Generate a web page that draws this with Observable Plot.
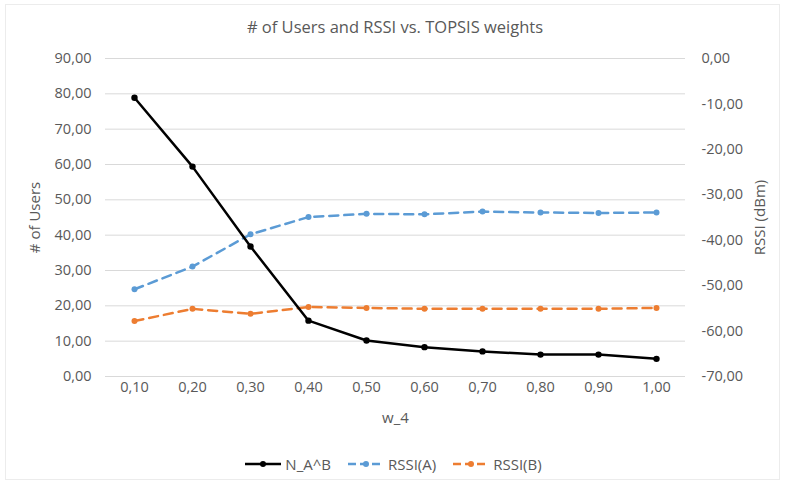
<!DOCTYPE html>
<html>
<head>
<meta charset="utf-8">
<script src="https://cdn.jsdelivr.net/npm/d3@7"></script>
<script src="https://cdn.jsdelivr.net/npm/@observablehq/plot@0.6"></script>
<style>
  html, body { margin: 0; padding: 0; background: #fff; }
  #wrap { position: relative; width: 786px; height: 483px; overflow: hidden; font-family: "Open Sans", sans-serif; color: #595959; }
  #frame { position: absolute; left: 5px; top: 4px; width: 775px; height: 476px; border: 1px solid #ececec; box-sizing: border-box; }
  #title { position: absolute; left: 0; top: 15px; width: 790px; text-align: center; font-size: 16.5px; }
  #chart { position: absolute; left: 0; top: 48px; }
  #legend { position: absolute; left: 0; top: 454px; width: 786px; display: flex; justify-content: center; gap: 16px; font-size: 15px; align-items: center; }
  .item { display: flex; align-items: center; gap: 3px; }
</style>
</head>
<body>
<div id="wrap">
  <div id="frame"></div>
  <div id="title"># of Users and RSSI vs. TOPSIS weights</div>
  <div id="chart"></div>
  <div id="legend"></div>
</div>
<script>
// TOPSIS weight w_4 categories
const categories = ["0,10", "0,20", "0,30", "0,40", "0,50", "0,60", "0,70", "0,80", "0,90", "1,00"];
// Number of users N_A^B (left axis)
const users = [78.9, 59.4, 36.8, 15.8, 10.2, 8.3, 7.1, 6.2, 6.2, 5.0];
// RSSI in dBm (right axis)
const rssiA = [-50.8, -45.8, -38.7, -34.9, -34.2, -34.3, -33.7, -33.9, -34.0, -33.9];
const rssiB = [-57.8, -55.1, -56.2, -54.7, -54.9, -55.1, -55.1, -55.1, -55.1, -54.9];
// Axis ticks
const leftTicks = [0, 10, 20, 30, 40, 50, 60, 70, 80, 90];
const rightTicks = [-70, -60, -50, -40, -30, -20, -10, 0];

const colors = { users: "#000000", a: "#5b9bd5", b: "#ed7d31" };

// Right axis (-70..0) shares the left axis (0..90) frame
const rMin = -70, rMax = 0, lMin = 0, lMax = 90;
const toLeft = r => lMin + (r - rMin) * (lMax - lMin) / (rMax - rMin);
const fmt = v => v.toFixed(2).replace(".", ",");

const rowsUsers = categories.map((c, i) => ({ w: c, v: users[i] }));
const rowsA = categories.map((c, i) => ({ w: c, v: toLeft(rssiA[i]) }));
const rowsB = categories.map((c, i) => ({ w: c, v: toLeft(rssiB[i]) }));

const dash = "9,6";

const chart = Plot.plot({
  width: 786,
  height: 400,
  marginTop: 10,
  marginBottom: 72,
  marginLeft: 105,
  marginRight: 101,
  style: { fontFamily: "Open Sans, sans-serif", fontSize: "14.5px", color: "#595959", background: "transparent" },
  x: { type: "point", domain: categories, padding: 0.5 },
  y: { domain: [lMin, lMax] },
  marks: [
    Plot.gridY(leftTicks, { stroke: "#d9d9d9", strokeOpacity: 1, strokeWidth: 1 }),
    Plot.axisY(leftTicks, { anchor: "left", tickSize: 0, tickPadding: 14, tickFormat: fmt, label: null }),
    Plot.axisY(rightTicks.map(toLeft), {
      anchor: "right", tickSize: 0, tickPadding: 16, label: null,
      tickFormat: d => fmt(rMin + (d - lMin) * (rMax - rMin) / (lMax - lMin))
    }),
    Plot.axisX({ anchor: "bottom", tickSize: 0, tickPadding: 5, label: null }),
    Plot.text(["w_4"], { frameAnchor: "bottom", dy: 46, fontSize: 15, fill: "#595959" }),
    Plot.text(["# of Users"], { frameAnchor: "left", textAnchor: "middle", dx: -70, rotate: -90, fontSize: 15, fill: "#595959" }),
    Plot.text(["RSSI (dBm)"], { frameAnchor: "right", textAnchor: "middle", dx: 75, rotate: -90, fontSize: 15, fill: "#595959" }),
    Plot.line(rowsA, { x: "w", y: "v", stroke: colors.a, strokeWidth: 2.5, strokeDasharray: dash }),
    Plot.dot(rowsA, { x: "w", y: "v", r: 3, fill: colors.a }),
    Plot.line(rowsB, { x: "w", y: "v", stroke: colors.b, strokeWidth: 2.5, strokeDasharray: dash }),
    Plot.dot(rowsB, { x: "w", y: "v", r: 3, fill: colors.b }),
    Plot.line(rowsUsers, { x: "w", y: "v", stroke: colors.users, strokeWidth: 2.5 }),
    Plot.dot(rowsUsers, { x: "w", y: "v", r: 3.2, fill: colors.users })
  ]
});
document.getElementById("chart").appendChild(chart);

// Legend
const legendItems = [
  { label: "N_A^B", color: colors.users, dash: null },
  { label: "RSSI(A)", color: colors.a, dash: "8,4" },
  { label: "RSSI(B)", color: colors.b, dash: "8,4" }
];
const legend = document.getElementById("legend");
for (const it of legendItems) {
  const el = document.createElement("div");
  el.className = "item";
  el.innerHTML = `<svg width="38" height="12"><line x1="1" y1="6" x2="37" y2="6" stroke="${it.color}" stroke-width="2.5" ${it.dash ? `stroke-dasharray="${it.dash}"` : ""}/><circle cx="19" cy="6" r="3" fill="${it.color}"/></svg><span>${it.label}</span>`;
  legend.appendChild(el);
}
</script>
</body>
</html>
